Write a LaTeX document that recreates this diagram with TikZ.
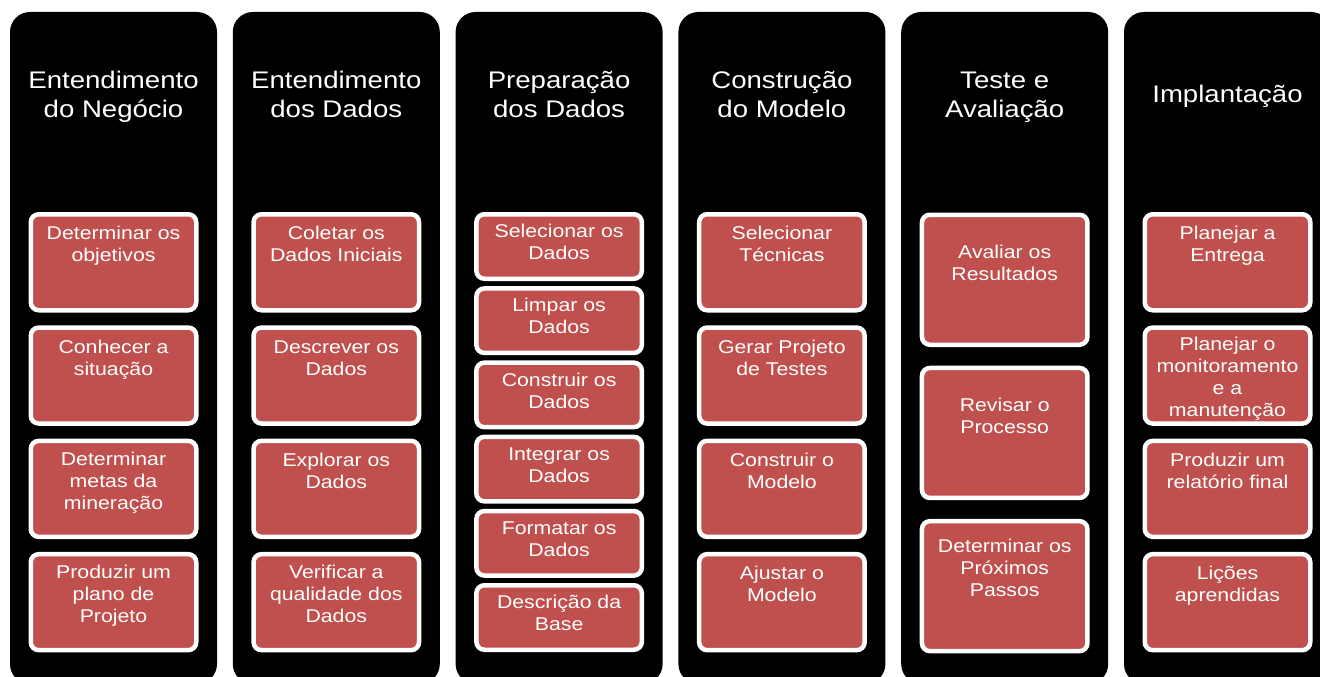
\documentclass[tikz,border=0pt]{standalone}
\usepackage{fontspec}
\newfontfamily\dfont[FakeStretch=1.15]{Liberation Sans}
\definecolor{boxred}{HTML}{C0504D}
\tikzset{
  colbox/.style={draw=none, fill=black, rounded corners=20pt, minimum width=207pt, minimum height=672pt, inner sep=0pt, outer sep=0pt},
  redbox/.style={draw=white, line width=4.5pt, fill=boxred, rounded corners=8pt, minimum width=165.5pt, inner sep=0pt, outer sep=0pt},
  boxtext/.style={text=white, align=center, inner sep=0pt, font=\dfont\fontsize{18.5pt}{22pt}\selectfont},
  titletext/.style={text=white, align=center, inner sep=0pt, font=\dfont\fontsize{24pt}{29pt}\selectfont}
}
% #1 name, #2 centre x, #3 top y, #4 height, #5 first baseline offset, #6 text
\newcommand\mkbox[6]{%
  \node[redbox, minimum height={(#4-4.5)*1pt}] (#1) at (#2, #3+#4/2) {};
  \node[boxtext, anchor=north] (#1t) at (#2, #3+#5-17) {\rule{0pt}{17pt}#6};
}
\begin{document}
\begin{tikzpicture}[x=1pt, y=-1pt]
\useasboundingbox (0,0) rectangle (1320,677);
\clip (0,0) rectangle (1320,677);
\fill[white] (0,0) rectangle (1320,677);

% columns
\node[colbox] (col1) at (113.5, 348) {};
\node[colbox] (col2) at (336.3, 348) {};
\node[colbox] (col3) at (559.1, 348) {};
\node[colbox] (col4) at (781.9, 348) {};
\node[colbox] (col5) at (1004.7, 348) {};
\node[colbox] (col6) at (1227.5, 348) {};

% titles
\node[titletext, anchor=north] (t1) at (113.5, 65) {\rule{0pt}{23pt}Entendimento\\do Negócio};
\node[titletext, anchor=north] (t2) at (336.3, 65) {\rule{0pt}{23pt}Entendimento\\dos Dados};
\node[titletext, anchor=north] (t3) at (559.1, 65) {\rule{0pt}{23pt}Preparação\\dos Dados};
\node[titletext, anchor=north] (t4) at (781.9, 65) {\rule{0pt}{23pt}Construção\\do Modelo};
\node[titletext, anchor=north] (t5) at (1004.7, 65) {\rule{0pt}{23pt}Teste e\\Avaliação};
\node[titletext, anchor=north] (t6) at (1227.5, 79.5) {\rule{0pt}{23pt}Implantação};

% column 1
\mkbox{a1}{113.5}{212}{100.5}{27.7}{Determinar os\\objetivos}
\mkbox{a2}{113.5}{325.3}{100.5}{27.7}{Conhecer a\\situação}
\mkbox{a3}{113.5}{438.6}{100.5}{26.5}{Determinar\\metas da\\mineração}
\mkbox{a4}{113.5}{551.9}{100.5}{26.5}{Produzir um\\plano de\\Projeto}

% column 2
\mkbox{b1}{336.3}{212}{100.5}{27.7}{Coletar os\\Dados Iniciais}
\mkbox{b2}{336.3}{325.3}{100.5}{27.7}{Descrever os\\Dados}
\mkbox{b3}{336.3}{438.6}{100.5}{27.7}{Explorar os\\Dados}
\mkbox{b4}{336.3}{551.9}{100.5}{26.5}{Verificar a\\qualidade dos\\Dados}

% column 3
\mkbox{c1}{559.1}{212}{69}{25.5}{Selecionar os\\Dados}
\mkbox{c2}{559.1}{286.2}{69}{25.5}{Limpar os\\Dados}
\mkbox{c3}{559.1}{360.4}{69}{25.5}{Construir os\\Dados}
\mkbox{c4}{559.1}{434.6}{69}{25.5}{Integrar os\\Dados}
\mkbox{c5}{559.1}{508.8}{69}{25.5}{Formatar os\\Dados}
\mkbox{c6}{559.1}{583}{69}{25.5}{Descrição da\\Base}

% column 4
\mkbox{d1}{781.9}{212}{100.5}{27.7}{Selecionar\\Técnicas}
\mkbox{d2}{781.9}{325.3}{100.5}{27.7}{Gerar Projeto\\de Testes}
\mkbox{d3}{781.9}{438.6}{100.5}{27.7}{Construir o\\Modelo}
\mkbox{d4}{781.9}{551.9}{100.5}{27.7}{Ajustar o\\Modelo}

% column 5
\mkbox{e1}{1004.7}{212.5}{134.5}{45.5}{Avaliar os\\Resultados}
\mkbox{e2}{1004.7}{365.7}{134.5}{45.5}{Revisar o\\Processo}
\mkbox{e3}{1004.7}{518.9}{134.5}{33}{Determinar os\\Próximos\\Passos}

% column 6
\mkbox{f1}{1227.5}{212}{100.5}{27.7}{Planejar a\\Entrega}
\mkbox{f2}{1227.5}{325.3}{100.5}{25}{Planejar o\\monitoramento\\e a\\manutenção}
\mkbox{f3}{1227.5}{438.6}{100.5}{27.7}{Produzir um\\relatório final}
\mkbox{f4}{1227.5}{551.9}{100.5}{27.7}{Lições\\aprendidas}
\end{tikzpicture}
\end{document}
